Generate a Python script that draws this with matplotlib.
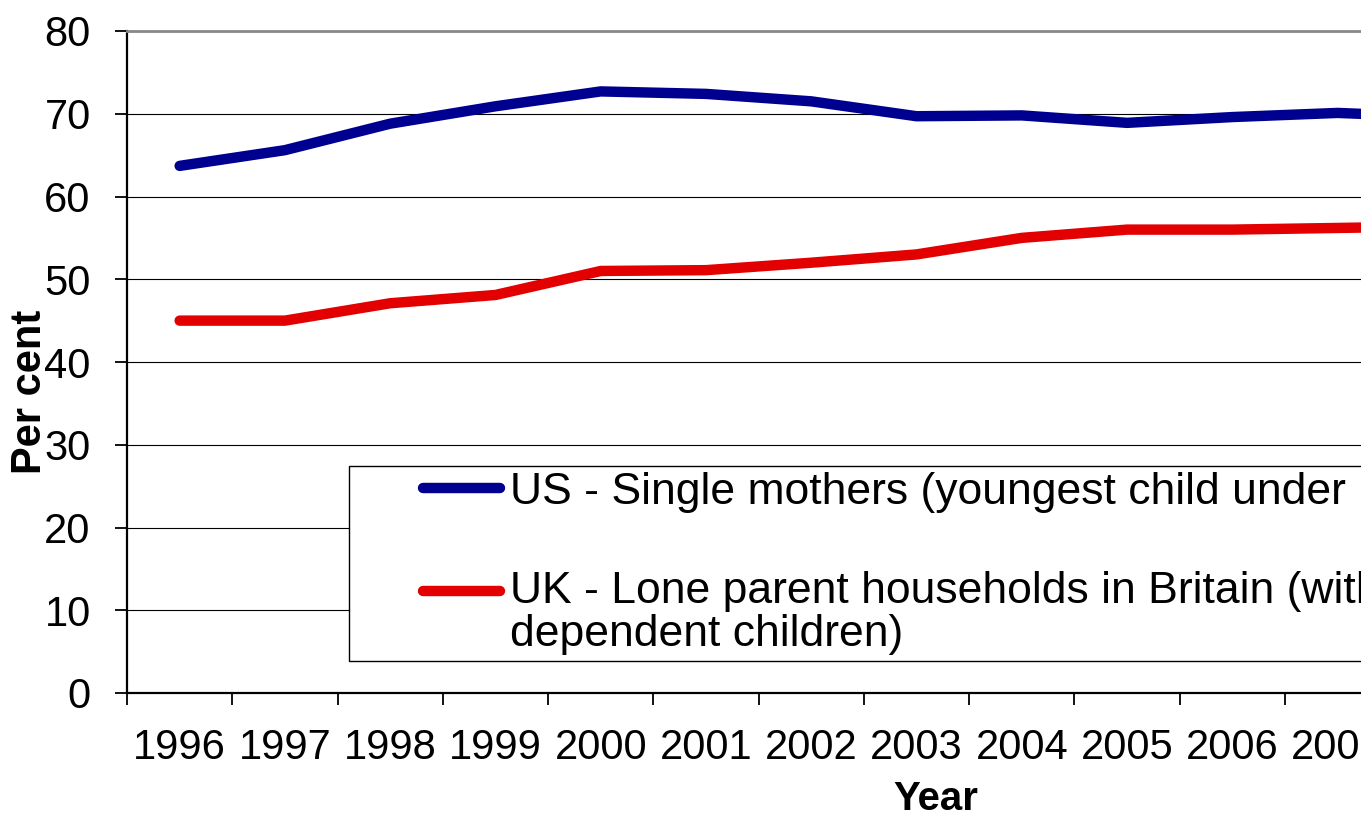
import matplotlib
matplotlib.use('Agg')
import matplotlib.pyplot as plt
from matplotlib.patches import Rectangle
from matplotlib.legend_handler import HandlerLine2D
import numpy as np

plt.rcParams['font.family'] = ['Liberation Sans', 'DejaVu Sans']

# values (last year only partly visible at the edge)
years = ['1996', '1997', '1998', '1999', '2000', '2001', '2002',
         '2003', '2004', '2005', '2006', '2007', '2008']
us_single_mothers = [63.7, 65.6, 68.8, 70.9, 72.7, 72.4, 71.5,
                     69.7, 69.8, 68.9, 69.6, 70.1, 69.6]
uk_lone_parents = [45.0, 45.0, 47.1, 48.1, 51.0, 51.1, 52.0,
                   53.0, 55.0, 56.0, 56.0, 56.2, 56.4]
us_label = 'US - Single mothers (youngest child under 18)'
uk_label = 'UK - Lone parent households in Britain (with\ndependent children)'
y_ticks = [0, 10, 20, 30, 40, 50, 60, 70, 80]


class FirstLineHandler(HandlerLine2D):
    """legend line lifted up to the first line of a two line label"""
    def __init__(self, shift, **kw):
        super().__init__(**kw)
        self.shift = shift

    def create_artists(self, legend, orig_handle, xdescent, ydescent,
                       width, height, fontsize, trans):
        artists = super().create_artists(legend, orig_handle, xdescent, ydescent,
                                         width, height, fontsize, trans)
        for a in artists:
            a.set_ydata(np.asarray(a.get_ydata(), dtype=float) + self.shift)
        return artists


W, H = 1361, 818
fig = plt.figure(figsize=(W / 100, H / 100), dpi=100)

# axes run past the right edge, as in the cropped original
cat_w = 105.27
ax_left, ax_top, ax_bottom = 127, 31, 693
ax_width = cat_w * len(years)
ax = fig.add_axes([ax_left / W, (H - ax_bottom) / H,
                   ax_width / W, (ax_bottom - ax_top) / H])

x = np.arange(len(years))
us_line, = ax.plot(x, us_single_mothers, color='#000090', lw=7.5,
                   solid_capstyle='round', solid_joinstyle='round',
                   label=us_label, zorder=3)
uk_line, = ax.plot(x, uk_lone_parents, color='#e20000', lw=7.5,
                   solid_capstyle='round', solid_joinstyle='round',
                   label=uk_label, zorder=3)

ax.set_xlim(-0.5, len(years) - 0.5)
ax.set_ylim(0, 80)

# category boundaries get the tick marks, centres get the labels
ax.set_xticks(np.arange(len(years) + 1) - 0.5)
ax.set_xticklabels([])
ax.set_xticks(x, minor=True)
ax.set_xticklabels(years, minor=True)
ax.tick_params(axis='x', which='major', direction='out', length=8.6, width=1.3, color='black')
ax.tick_params(axis='x', which='minor', length=0, labelsize=30, pad=25)

ax.set_yticks(y_ticks)
ax.tick_params(axis='y', direction='out', length=8.6, width=1.3, labelsize=30, pad=17.5)

ax.yaxis.grid(True, color='black', lw=0.8)
ax.set_axisbelow(True)

ax.spines['right'].set_visible(False)
ax.spines['top'].set_color('#888888')
ax.spines['top'].set_linewidth(2)
for s in ['left', 'bottom']:
    ax.spines[s].set_color('black')
    ax.spines[s].set_linewidth(1.6)

# legend frame
def ax_x(px):
    return (px - ax_left) / ax_width

def ax_y(py):
    return (ax_bottom - py) / (ax_bottom - ax_top)

box = Rectangle((ax_x(349), ax_y(661)), 1.0, ax_y(466) - ax_y(661),
                transform=ax.transAxes, facecolor='white', edgecolor='black',
                lw=1, zorder=2.5, clip_on=False)
ax.add_patch(box)

leg = ax.legend(loc='upper left', bbox_to_anchor=(ax_x(423), ax_y(472)),
                frameon=False, fontsize=32, borderpad=0, borderaxespad=0,
                handlelength=1.73, handletextpad=0.225, labelspacing=1.3,
                handler_map={uk_line: FirstLineHandler(16.5)})
leg.set_zorder(5)
leg.get_texts()[1].set_linespacing(1.08)

fig.text(30 / W, 1 - 392 / H, 'Per cent', rotation=90, fontsize=30,
         fontweight='bold', ha='center', va='center')
fig.text(936 / W, 1 - 799 / H, 'Year', fontsize=29,
         fontweight='bold', ha='center', va='center')

fig.savefig('out.png', dpi=100)
